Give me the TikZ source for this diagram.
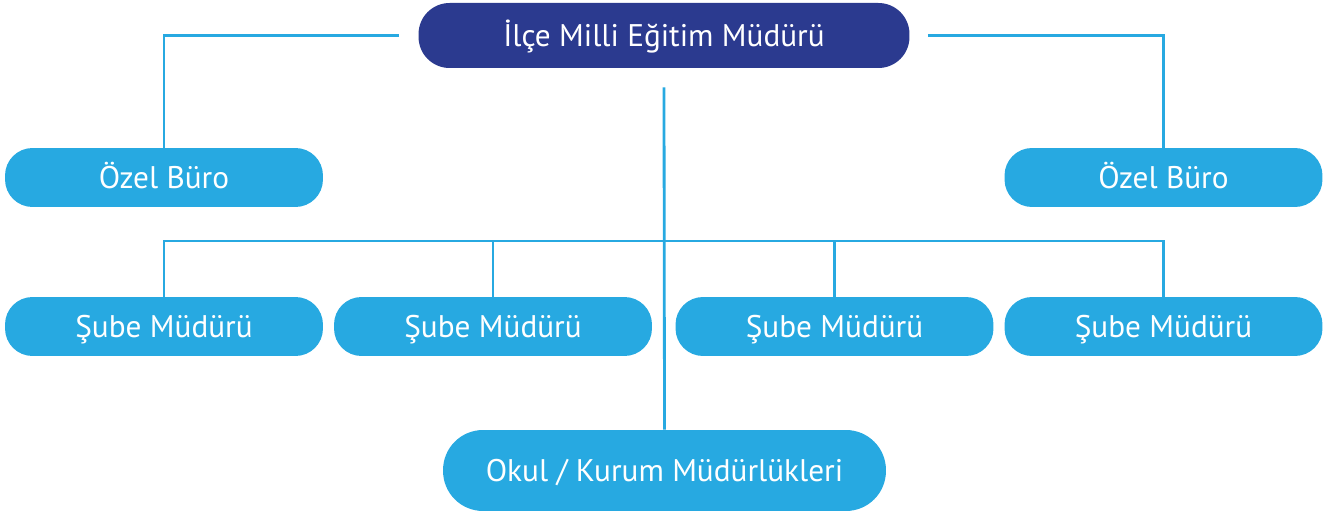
\documentclass[tikz,border=0pt]{standalone}
\usepackage{fontspec}
\setmainfont{PT Sans}
\usepackage{xcolor}
\definecolor{koyumavi}{HTML}{2B3A8F}
\definecolor{acikmavi}{HTML}{27A9E1}
\tikzset{
  kutu/.style={rectangle, fill=acikmavi, text=white, inner sep=0pt,
    minimum width=6.36cm, minimum height=1.18cm, rounded corners=0.55cm,
    text height=0.44cm, text depth=0pt,
    font=\fontsize{17.8}{20}\selectfont},
  hat/.style={acikmavi, line width=1.6pt}
}

\begin{document}
\begin{tikzpicture}[x=0.02cm,y=-0.02cm]
\useasboundingbox (0,0) rectangle (1325,516);

\node[kutu, fill=koyumavi, minimum width=9.82cm, minimum height=1.3cm, rounded corners=0.62cm] (mudur) at (664,35.5) {İlçe Milli Eğitim Müdürü};

\node[kutu] (ozel1) at (164,177.5) {Özel Büro};
\node[kutu] (ozel2) at (1163.5,177.5) {Özel Büro};

\node[kutu] (sube1) at (164,326.5) {Şube Müdürü};
\node[kutu] (sube2) at (493,326.5) {Şube Müdürü};
\node[kutu] (sube3) at (834.5,326.5) {Şube Müdürü};
\node[kutu] (sube4) at (1163.5,326.5) {Şube Müdürü};

\node[kutu, minimum width=8.86cm, minimum height=1.62cm, rounded corners=0.8cm] (okul) at (664.5,470.5) {Okul / Kurum Müdürlükleri};

\coordinate (bus) at (664,241);

\draw[hat] ([xshift=-0.38cm]mudur.west) -| (ozel1.north);
\draw[hat] ([xshift=0.36cm]mudur.east) -| (ozel2.north);
\draw[hat] ([yshift=-0.38cm]mudur.south) -- (okul.north);

\draw[hat] (sube1.north) |- (bus) -| (sube4.north);
\draw[hat] (sube2.north) -- (sube2.north |- bus);
\draw[hat] (sube3.north) -- (sube3.north |- bus);
\end{tikzpicture}
\end{document}
